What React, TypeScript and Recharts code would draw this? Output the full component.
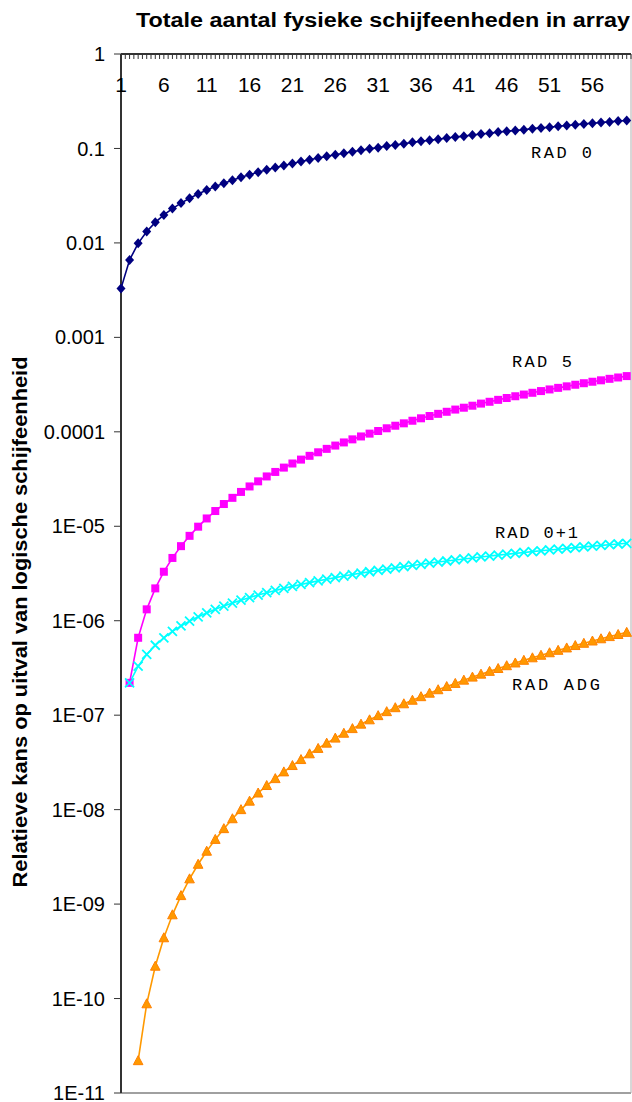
import { LineChart, Line, XAxis, YAxis, ReferenceLine } from 'recharts'

// number of physical disks in the array
const DISKS = [
  1, 2, 3, 4, 5, 6, 7, 8, 9, 10, 11, 12, 13, 14, 15, 16, 17, 18, 19, 20,
  21, 22, 23, 24, 25, 26, 27, 28, 29, 30, 31, 32, 33, 34, 35, 36, 37, 38, 39, 40,
  41, 42, 43, 44, 45, 46, 47, 48, 49, 50, 51, 52, 53, 54, 55, 56, 57, 58, 59, 60,
]

const RAID0 = [
  0.0033, 0.0066, 0.0099, 0.0132, 0.0165, 0.0198, 0.0231, 0.0264, 0.0297, 0.033,
  0.0363, 0.0396, 0.0429, 0.0462, 0.0495, 0.0528, 0.0561, 0.0594, 0.0627, 0.066,
  0.0693, 0.0726, 0.0759, 0.0792, 0.0825, 0.0858, 0.0891, 0.0924, 0.0957, 0.099,
  0.102, 0.106, 0.109, 0.112, 0.116, 0.119, 0.122, 0.125, 0.129, 0.132,
  0.135, 0.139, 0.142, 0.145, 0.149, 0.152, 0.155, 0.158, 0.162, 0.165,
  0.168, 0.172, 0.175, 0.178, 0.182, 0.185, 0.188, 0.191, 0.195, 0.198,
]

const RAID5 = [
  null, 2.2e-7, 6.6e-7, 1.32e-6, 2.2e-6, 3.3e-6, 4.62e-6, 6.16e-6, 7.92e-6, 9.9e-6,
  1.21e-5, 1.45e-5, 1.72e-5, 2.0e-5, 2.31e-5, 2.64e-5, 2.99e-5, 3.37e-5, 3.76e-5, 4.18e-5,
  4.62e-5, 5.08e-5, 5.57e-5, 6.07e-5, 6.6e-5, 7.15e-5, 7.72e-5, 8.32e-5, 8.93e-5, 9.57e-5,
  1.02e-4, 1.09e-4, 1.16e-4, 1.23e-4, 1.31e-4, 1.39e-4, 1.47e-4, 1.55e-4, 1.63e-4, 1.72e-4,
  1.8e-4, 1.89e-4, 1.99e-4, 2.08e-4, 2.18e-4, 2.28e-4, 2.38e-4, 2.48e-4, 2.59e-4, 2.7e-4,
  2.81e-4, 2.92e-4, 3.03e-4, 3.15e-4, 3.27e-4, 3.39e-4, 3.51e-4, 3.64e-4, 3.76e-4, 3.89e-4,
]

const RAID01 = [
  null, 2.2e-7, 3.3e-7, 4.4e-7, 5.5e-7, 6.6e-7, 7.7e-7, 8.8e-7, 9.9e-7, 1.1e-6,
  1.21e-6, 1.32e-6, 1.43e-6, 1.54e-6, 1.65e-6, 1.76e-6, 1.87e-6, 1.98e-6, 2.09e-6, 2.2e-6,
  2.31e-6, 2.42e-6, 2.53e-6, 2.64e-6, 2.75e-6, 2.86e-6, 2.97e-6, 3.08e-6, 3.19e-6, 3.3e-6,
  3.41e-6, 3.52e-6, 3.63e-6, 3.74e-6, 3.85e-6, 3.96e-6, 4.07e-6, 4.18e-6, 4.29e-6, 4.4e-6,
  4.51e-6, 4.62e-6, 4.73e-6, 4.84e-6, 4.95e-6, 5.06e-6, 5.17e-6, 5.28e-6, 5.39e-6, 5.5e-6,
  5.61e-6, 5.72e-6, 5.83e-6, 5.94e-6, 6.05e-6, 6.16e-6, 6.27e-6, 6.38e-6, 6.49e-6, 6.6e-6,
]

const RAIDADG = [
  null, null, 2.2e-11, 8.8e-11, 2.2e-10, 4.4e-10, 7.7e-10, 1.23e-9, 1.85e-9, 2.64e-9,
  3.63e-9, 4.84e-9, 6.29e-9, 8.01e-9, 1.0e-8, 1.23e-8, 1.5e-8, 1.8e-8, 2.13e-8, 2.51e-8,
  2.93e-8, 3.39e-8, 3.9e-8, 4.45e-8, 5.06e-8, 5.72e-8, 6.44e-8, 7.21e-8, 8.04e-8, 8.93e-8,
  9.89e-8, 1.09e-7, 1.2e-7, 1.32e-7, 1.44e-7, 1.57e-7, 1.71e-7, 1.86e-7, 2.01e-7, 2.17e-7,
  2.35e-7, 2.53e-7, 2.72e-7, 2.91e-7, 3.12e-7, 3.34e-7, 3.57e-7, 3.81e-7, 4.05e-7, 4.31e-7,
  4.58e-7, 4.86e-7, 5.15e-7, 5.46e-7, 5.77e-7, 6.1e-7, 6.44e-7, 6.79e-7, 7.15e-7, 7.53e-7,
]

const Y_TICKS = [1, 0.1, 0.01, 0.001, 0.0001, 1e-5, 1e-6, 1e-7, 1e-8, 1e-9, 1e-10, 1e-11]
const Y_LABELS = ['1', '0.1', '0.01', '0.001', '0.0001', '1E-05', '1E-06', '1E-07', '1E-08', '1E-09', '1E-10', '1E-11']
const X_LABELS = [1, 6, 11, 16, 21, 26, 31, 36, 41, 46, 51, 56]

const data = DISKS.map((n, i) => ({
  n,
  raid0: RAID0[i],
  raid5: RAID5[i],
  raid01: RAID01[i],
  adg: RAIDADG[i],
}))

const W = 632
const H = 1102
const TOP = 54
const LEFT = 121
const FONT = '"Liberation Sans", Arial, sans-serif'
const AXIS = '#333333'

// minor ticks every half disk, labels every 5 disks
const X_TICKS = Array.from({ length: 120 }, (_, i) => 1 + i * 0.5)

const XTick = ({ x, payload }: any) => {
  const v = payload.value
  return (
    <g>
      <line x1={x} x2={x} y1={TOP} y2={TOP + 5} stroke={AXIS} strokeWidth={1} />
      {X_LABELS.includes(v) && (
        <text x={x} y={TOP + 38} textAnchor="middle" fontSize={21} fontFamily={FONT} fill="#000">
          {v}
        </text>
      )}
    </g>
  )
}

const Diamond = ({ cx, cy }: any) =>
  cx == null || cy == null ? null : (
    <path d={`M${cx},${cy - 5}L${cx + 4.5},${cy}L${cx},${cy + 5}L${cx - 4.5},${cy}Z`} fill="#000080" />
  )

const Square = ({ cx, cy }: any) =>
  cx == null || cy == null ? null : <rect x={cx - 4} y={cy - 4} width={8} height={8} fill="#FF00FF" />

const Cross = ({ cx, cy }: any) =>
  cx == null || cy == null ? null : (
    <path
      d={`M${cx - 4.5},${cy - 4.5}L${cx + 4.5},${cy + 4.5}M${cx - 4.5},${cy + 4.5}L${cx + 4.5},${cy - 4.5}`}
      stroke="#00FFFF"
      strokeWidth={1.8}
    />
  )

const Triangle = ({ cx, cy }: any) =>
  cx == null || cy == null ? null : (
    <path
      d={`M${cx},${cy - 5}L${cx + 4.8},${cy + 4}L${cx - 4.8},${cy + 4}Z`}
      fill="#FF9900"
      stroke="#FF8000"
      strokeWidth={1}
    />
  )

export default function App() {
  return (
    <div style={{ position: 'absolute', left: 0, top: 0, width: W, height: H, background: '#fff' }}>
      <LineChart width={W} height={H} data={data} margin={{ top: TOP - 1, right: 1, bottom: 9, left: 0 }}>
        <XAxis
          dataKey="n"
          type="number"
          orientation="top"
          height={1}
          domain={[1, 60.5]}
          ticks={X_TICKS}
          interval={0}
          axisLine={{ stroke: AXIS, strokeWidth: 2 }}
          tickLine={false}
          tick={<XTick />}
        />
        <YAxis
          scale="log"
          domain={[1e-11, 1]}
          ticks={Y_TICKS}
          interval={0}
          width={LEFT}
          axisLine={{ stroke: AXIS, strokeWidth: 2 }}
          tickLine={{ stroke: AXIS }}
          tickSize={7}
          tickMargin={9}
          tick={{ fontSize: 20, fontFamily: FONT, fill: '#000' }}
          tickFormatter={(v: number) => Y_LABELS[Y_TICKS.indexOf(v)] ?? String(v)}
        />
        <ReferenceLine y={1e-11} stroke="#a0a0a0" strokeWidth={2} />
        <ReferenceLine x={60.5} stroke="#b0b0b0" strokeWidth={1} />
        <Line
          dataKey="raid0"
          stroke="#000080"
          strokeWidth={1.6}
          isAnimationActive={false}
          dot={(p: any) => <Diamond key={`d0-${p.index}`} cx={p.cx} cy={p.cy} />}
        />
        <Line
          dataKey="raid5"
          stroke="#FF00FF"
          strokeWidth={1.6}
          isAnimationActive={false}
          dot={(p: any) => <Square key={`d5-${p.index}`} cx={p.cx} cy={p.cy} />}
        />
        <Line
          dataKey="raid01"
          stroke="#00FFFF"
          strokeWidth={1.6}
          isAnimationActive={false}
          dot={(p: any) => <Cross key={`d01-${p.index}`} cx={p.cx} cy={p.cy} />}
        />
        <Line
          dataKey="adg"
          stroke="#FF9900"
          strokeWidth={1.6}
          isAnimationActive={false}
          dot={(p: any) => <Triangle key={`dadg-${p.index}`} cx={p.cx} cy={p.cy} />}
        />
      </LineChart>
      <svg width={W} height={H} style={{ position: 'absolute', left: 0, top: 0, pointerEvents: 'none' }}>
        <text x={136} y={27} fontSize={20} fontWeight="bold" fontFamily={FONT} textLength={494} lengthAdjust="spacingAndGlyphs">
          Totale aantal fysieke schijfeenheden in array
        </text>
        <text
          transform="rotate(-90)"
          x={-622}
          y={27}
          textAnchor="middle"
          fontSize={20}
          fontWeight="bold"
          fontFamily={FONT}
          textLength={531}
          lengthAdjust="spacingAndGlyphs"
        >
          Relatieve kans op uitval van logische schijfeenheid
        </text>
        <g fontFamily='"Liberation Mono", "DejaVu Sans Mono", monospace' fontSize={17} fill="#000">
          <text x={531} y={158} textLength={61} lengthAdjust="spacing">RAD 0</text>
          <text x={512} y={367} textLength={60} lengthAdjust="spacing">RAD 5</text>
          <text x={495} y={538} textLength={83} lengthAdjust="spacing">RAD 0+1</text>
          <text x={512} y={690} textLength={88} lengthAdjust="spacing">RAD ADG</text>
        </g>
      </svg>
    </div>
  )
}
